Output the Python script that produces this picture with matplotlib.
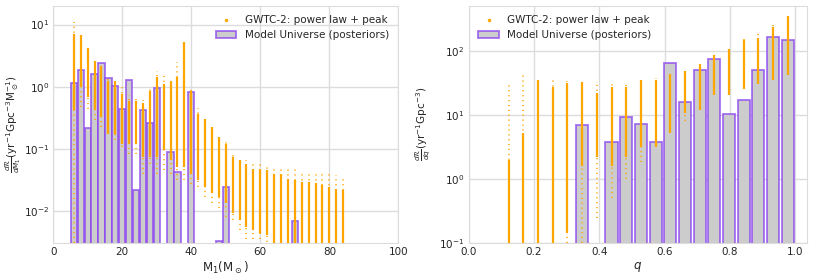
import numpy as np
import matplotlib
matplotlib.use("Agg")
import matplotlib.pyplot as plt
from matplotlib.lines import Line2D
from matplotlib.patches import Patch

# ---- left panel: primary mass ----
m1_centres = np.arange(6, 86, 2)
# GWTC-2 posterior columns: (max, dense top, dense bottom, min)
m1_max = [10.9, 6.9, 4.16, 2.55, 2.14, 1.50, 1.26, 1.05, 0.73, 0.68,
          0.62, 0.93, 1.78, 1.52, 1.26, 2.48, 5.19, 0.93, 0.46, 0.303,
          0.229, 0.164, 0.132, 0.0805, 0.074, 0.066, 0.0614, 0.059, 0.0556, 0.0543,
          0.053, 0.0498, 0.0486, 0.0446, 0.0446, 0.043, 0.042, 0.040, 0.038, 0.0357]
m1_hi = [7.06, 6.89, 4.16, 2.55, 2.14, 1.26, 1.26, 0.77, 0.60, 0.60,
         0.55, 0.87, 1.43, 1.12, 1.26, 1.43, 5.19, 0.87, 0.37, 0.30,
         0.229, 0.156, 0.122, 0.0747, 0.066, 0.0584, 0.0486, 0.0486, 0.0457, 0.0404,
         0.0404, 0.0336, 0.0316, 0.0297, 0.0297, 0.028, 0.0263, 0.025, 0.0232, 0.0219]
m1_lo = [0.418, 0.99, 0.68, 0.418, 0.327, 0.177, 0.177, 0.122, 0.122, 0.122,
         0.0747, 0.0747, 0.0747, 0.0955, 0.066, 0.0517, 0.0517, 0.0404, 0.0316, 0.0247,
         0.0193, 0.0171, 0.0134, 0.00925, 0.00723, 0.00565, 0.005, 0.00442, 0.00416, 0.003,
         0.003, 0.003, 0.003, 0.003, 0.003, 0.003, 0.003, 0.003, 0.003, 0.003]
m1_min = [0.00313, 0.47, 0.44, 0.289, 0.226, 0.177, 0.138, 0.108, 0.0845, 0.0845,
          0.0404, 0.0584, 0.0404, 0.0457, 0.0404, 0.0316, 0.0316, 0.0279, 0.0247, 0.0171,
          0.0134, 0.0111, 0.00817, 0.00723, 0.005, 0.00355, 0.00355, 0.00355, 0.00325, 0.003,
          0.003, 0.003, 0.003, 0.003, 0.003, 0.003, 0.003, 0.003, 0.003, 0.003]
m1_bar_x = [6, 8, 10, 12, 14, 16, 18, 20, 22, 24, 26, 28, 30, 34, 36, 40, 48, 50, 70]
m1_bar_h = [1.15, 1.85, 0.22, 1.6, 2.4, 1.4, 1.04, 0.44, 1.3, 0.022,
            0.42, 0.265, 0.96, 0.091, 0.042, 0.82, 0.0033, 0.025, 0.007]

# ---- right panel: mass ratio ----
q_centres = np.arange(20) * 0.045 + 0.1225
q_max = [29.6, 42.9, 38, 35.4, 33.7, 32.6, 32.2, 31.4, 32.6, 34.6,
         38, 42.9, 48.3, 64.3, 86.7, 114, 152, 200, 263, 346]
q_hi = [1.97, 5.13, 34.6, 27.2, 30.7, 32.6, 21.5, 27.2, 27.2, 34.6,
        34.6, 42.9, 48.3, 62.8, 84.6, 107, 148, 159, 233, 346]
q_lo = [0.1, 0.1, 0.1, 0.1, 0.143, 1.56, 2.22, 1.56, 2.22, 3.18,
        3.18, 5.13, 10.5, 11.8, 20.2, 20.2, 24.8, 30, 34.6, 41.9]
q_min = [0.1, 0.1, 0.1, 0.1, 0.1, 0.1, 0.245, 0.5, 0.99, 1.86,
         3.18, 5.13, 8.07, 11.8, 20.2, 20.2, 24.8, 30, 34.6, 41.9]
q_bar_x = [0.3475, 0.4375, 0.4825, 0.5275, 0.5725, 0.6175, 0.6625, 0.7075,
           0.7525, 0.7975, 0.8425, 0.8875, 0.9325, 0.9775]
q_bar_h = [7.0, 3.7, 9.1, 7.2, 3.7, 65, 15.7, 49, 75, 10.1, 16.9, 49, 165, 148]

orange = "orange"
grey = "#cccccc"
purple = (0.54, 0.26, 0.95, 0.75)
gridc = "#dcdcdc"
txt = "#262626"

plt.rcParams["font.family"] = "DejaVu Sans"
fig = plt.figure(figsize=(8.18, 2.77), dpi=100)
ax1 = fig.add_axes([0.065, 0.123, 0.422, 0.856])
ax2 = fig.add_axes([0.573, 0.123, 0.413, 0.856])


def panel(ax, xc, vmax, vhi, vlo, vmin, bx, bh, width):
    ax.bar(bx, bh, width=width, color=grey, edgecolor=purple, linewidth=1.3, zorder=2)
    ax.vlines(xc, vmin, vmax, color=orange, linewidth=1.1, linestyles=(0, (0.8, 2.4)), zorder=3)
    ax.vlines(xc, vlo, vhi, color=orange, linewidth=1.6, zorder=3)
    ax.set_yscale("log")
    ax.grid(True, color=gridc, linewidth=1.0, zorder=0)
    ax.set_axisbelow(True)
    ax.minorticks_off()
    for s in ax.spines.values():
        s.set_color(gridc)
    ax.tick_params(length=0, labelsize=7.5, colors=txt, pad=3)


panel(ax1, m1_centres, m1_max, m1_hi, m1_lo, m1_min, m1_bar_x, m1_bar_h, 1.84)
ax1.set_xlim(0, 100)
ax1.set_ylim(0.0031, 20)
ax1.set_xlabel(r"M$_1$(M$_\odot$)", fontsize=8.5, color=txt, labelpad=2)
ax1.set_ylabel(r"$\frac{d\mathcal{R}}{dM_1}$(yr$^{-1}$Gpc$^{-3}$M$_\odot^{-1}$)",
               fontsize=7.5, color=txt)
ax1.yaxis.set_label_coords(-0.088, 0.5)

panel(ax2, q_centres, q_max, q_hi, q_lo, q_min, q_bar_x, q_bar_h, 0.037)
ax2.set_xlim(0, 1.035)
ax2.set_xticks([0.0, 0.2, 0.4, 0.6, 0.8, 1.0])
ax2.set_ylim(0.1, 500)
ax2.set_xlabel(r"$q$", fontsize=8.5, color=txt, labelpad=2)
ax2.set_ylabel(r"$\frac{d\mathcal{R}}{dq}$(yr$^{-1}$Gpc$^{-3}$)", fontsize=7.5, color=txt)
ax2.yaxis.set_label_coords(-0.105, 0.5)

handles = [Line2D([], [], marker="o", markersize=1.5, color=orange, linestyle="none"),
           Patch(facecolor=grey, edgecolor=purple, linewidth=1.3)]
labels = ["GWTC-2: power law + peak", "Model Universe (posteriors)"]
for ax, loc in ((ax1, "upper right"), (ax2, "upper left")):
    leg = ax.legend(handles, labels, loc=loc, frameon=False, fontsize=7.5)
    for t in leg.get_texts():
        t.set_color(txt)

plt.savefig("out.png", dpi=100)
